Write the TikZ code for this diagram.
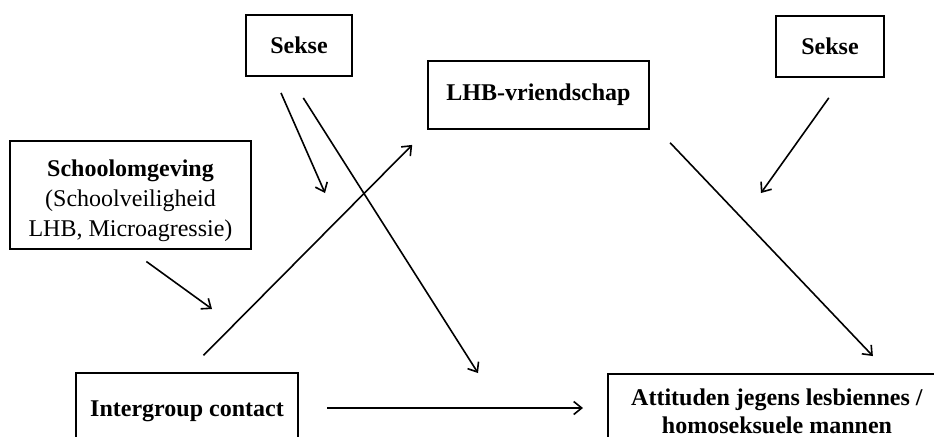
\documentclass[tikz,border=0pt]{standalone}
\usepackage{fontspec}
\setmainfont{Liberation Serif}
\usetikzlibrary{arrows.meta}
\tikzset{
  box/.style={draw, line width=1pt, align=center, inner sep=0pt, font=\fontsize{12}{14}\selectfont},
  arr/.style={line width=0.8pt, -{Straight Barb[length=4pt,width=6.5pt]}}
}

\begin{document}
\begin{tikzpicture}[x=0.5pt, y=-0.5pt]
		%%%%% START %%%%%
		\useasboundingbox (0,0) rectangle (934,436);
		\clip (0,0) rectangle (934,436);
		
		\node[box, minimum width=53pt, minimum height=30.5pt] (sekse1) at (299,45.5) {\textbf{Sekse}};
		\node[box, minimum width=54pt, minimum height=30.5pt] (sekse2) at (830,46.5) {\textbf{Sekse}};
		\node[box, minimum width=110.5pt, minimum height=34pt] (lhb) at (538.5,95) {\textbf{LHB-vriendschap}};
		\node[box, minimum width=120.5pt, minimum height=54pt, font=\fontsize{12}{15}\selectfont] (school) at (130.5,195)
			{\rule{0pt}{14.2pt}\textbf{Schoolomgeving}\\(Schoolveiligheid\\LHB, Microagressie)};
		\node[box, minimum width=111pt, minimum height=38pt] (intergroup) at (187,411) {\textbf{Intergroup contact}};
		\node[box, minimum width=169pt, minimum height=37pt] (attituden) at (777,411)
			{\textbf{Attituden jegens lesbiennes /}\\\textbf{homoseksuele mannen}};
		
		\coordinate (m1) at (325,193);
		\coordinate (m2) at (478,373);
		\coordinate (m3) at (212,309);
		\coordinate (m4) at (761,193);
		
		\draw[arr, shorten <=11.7pt, shorten >=10.5pt] (intergroup.north) -- (lhb.south west);
		\draw[arr, shorten <=8.8pt, shorten >=11.7pt] ([xshift=4pt]lhb.south east) -- ([xshift=56pt]attituden.north);
		\draw[arr, shorten <=14pt, shorten >=12pt] ([yshift=1.5pt]intergroup.east) -- ([yshift=1.5pt]attituden.west);
		
		\draw[arr, shorten <=9.8pt] (school.south) -- (m3);
		\draw[arr, shorten <=8.7pt] ([xshift=-12.5pt]sekse1.south) -- (m1);
		\draw[arr, shorten <=12.4pt] ([xshift=-4.5pt]sekse1.south) -- (m2);
		\draw[arr, shorten <=12.2pt] ([xshift=6.5pt]sekse2.south) -- (m4);
		
		%%%%% END %%%%%
	\end{tikzpicture}
\end{document}
